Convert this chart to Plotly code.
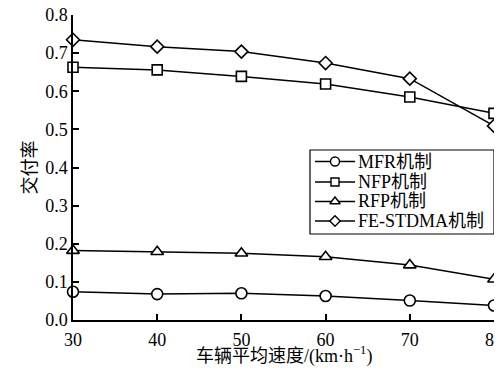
import plotly.graph_objects as go

speeds = [30, 40, 50, 60, 70, 80]
mfr = [0.074, 0.068, 0.070, 0.063, 0.051, 0.038]
nfp = [0.663, 0.656, 0.639, 0.619, 0.585, 0.542]
rfp = [0.182, 0.179, 0.175, 0.166, 0.144, 0.107]
fe_stdma = [0.735, 0.717, 0.704, 0.674, 0.633, 0.509]

series_names = ["MFR机制", "NFP机制", "RFP机制", "FE-STDMA机制"]
series_values = [mfr, nfp, rfp, fe_stdma]
symbols = ["circle", "square", "triangle-up", "diamond"]
sizes = [11, 10, 11, 10]
legend_sizes = [9, 8, 9, 8]

x_ticks = [30, 40, 50, 60, 70, 80]
y_ticks = [0.0, 0.1, 0.2, 0.3, 0.4, 0.5, 0.6, 0.7, 0.8]
y_tick_text = ["0.0", "0.1", "0.2", "0.3", "0.4", "0.5", "0.6", "0.7", "0.8"]

FONT = "'Liberation Serif', 'Noto Sans CJK SC', serif"

# the page body has an 8px margin; the figure is shifted by it
OFF = 8
W, H = 502, 370 - OFF
ML, MT = 73 - OFF, 15 - OFF
MR = W - ML - (494 - 73)
MB = H - (320 - OFF)
PW, PH = W - ML - MR, H - MT - MB

def px_x(x):
    # x in screenshot pixels -> paper
    return (x - OFF - ML) / PW

def px_y(y):
    # y in screenshot pixels -> paper
    return (H - MB - (y - OFF)) / PH

fig = go.Figure()
for name, vals, sym, sz in zip(series_names, series_values, symbols, sizes):
    fig.add_trace(go.Scatter(
        x=speeds, y=vals, name=name, mode="lines+markers",
        line=dict(color="black", width=1.5),
        marker=dict(symbol=sym, size=sz, color="white", line=dict(color="black", width=1.6)),
        cliponaxis=False, showlegend=False,
    ))

# manual legend (screenshot pixel coords)
box = dict(x0=310, x1=494, y0=150, y1=234)
row_y = [161.5, 182, 201.5, 221]
line_x0, line_x1, mark_x, text_x = 315, 355, 335, 356

shapes = [dict(type="rect", xref="paper", yref="paper", layer="below",
               x0=px_x(box["x0"]), x1=px_x(box["x1"]), y0=px_y(box["y1"]), y1=px_y(box["y0"]),
               line=dict(color="black", width=1.2), fillcolor="white")]
annotations = []
for name, sym, sz, ry in zip(series_names, symbols, legend_sizes, row_y):
    shapes.append(dict(type="line", xref="paper", yref="paper", layer="below",
                       x0=px_x(line_x0), x1=px_x(line_x1), y0=px_y(ry), y1=px_y(ry),
                       line=dict(color="black", width=1.5)))
    fig.add_trace(go.Scatter(
        x=[px_x(mark_x)], y=[px_y(ry)], xaxis="x2", yaxis="y2", mode="markers",
        marker=dict(symbol=sym, size=sz, color="white", line=dict(color="black", width=1.4)),
        cliponaxis=False, showlegend=False, hoverinfo="skip",
    ))
    annotations.append(dict(text=name, xref="paper", yref="paper", x=px_x(text_x), y=px_y(ry),
                            xanchor="left", yanchor="middle", showarrow=False,
                            font=dict(family=FONT, size=18, color="black")))

# x-axis title
annotations.append(dict(text="车辆平均速度/(km·h<sup>−1</sup>)", xref="paper", yref="paper",
                        x=0.5, y=px_y(355), xanchor="center", yanchor="middle", showarrow=False,
                        font=dict(family=FONT, size=18, color="black")))

fig.update_layout(
    width=W, height=H,
    margin=dict(l=ML, r=MR, t=MT, b=MB),
    paper_bgcolor="white", plot_bgcolor="white",
    font=dict(family=FONT, size=18, color="black"),
    showlegend=False,
    shapes=shapes, annotations=annotations,
    xaxis2=dict(overlaying="x", range=[0, 1], visible=False),
    yaxis2=dict(overlaying="y", range=[0, 1], visible=False),
)
fig.update_layout(xaxis=dict(
    range=[30, 80], tickvals=x_ticks, showgrid=False, zeroline=False,
    showline=True, linecolor="black", linewidth=1.5,
    ticks="inside", ticklen=6, tickwidth=1.5, tickcolor="black",
    tickfont=dict(family=FONT, size=18), ticklabelstandoff=3,
    ticklabeloverflow="allow", automargin=False,
))
fig.update_layout(yaxis=dict(
    range=[0, 0.8], tickvals=y_ticks, ticktext=y_tick_text, showgrid=False, zeroline=False,
    showline=True, linecolor="black", linewidth=1.5,
    ticks="inside", ticklen=6, tickwidth=1.5, tickcolor="black",
    tickfont=dict(family=FONT, size=18),
    ticklabeloverflow="allow",
    title=dict(text="交付率", font=dict(family=FONT, size=18), standoff=4),
    automargin=False,
))

fig.write_html("out.html")
